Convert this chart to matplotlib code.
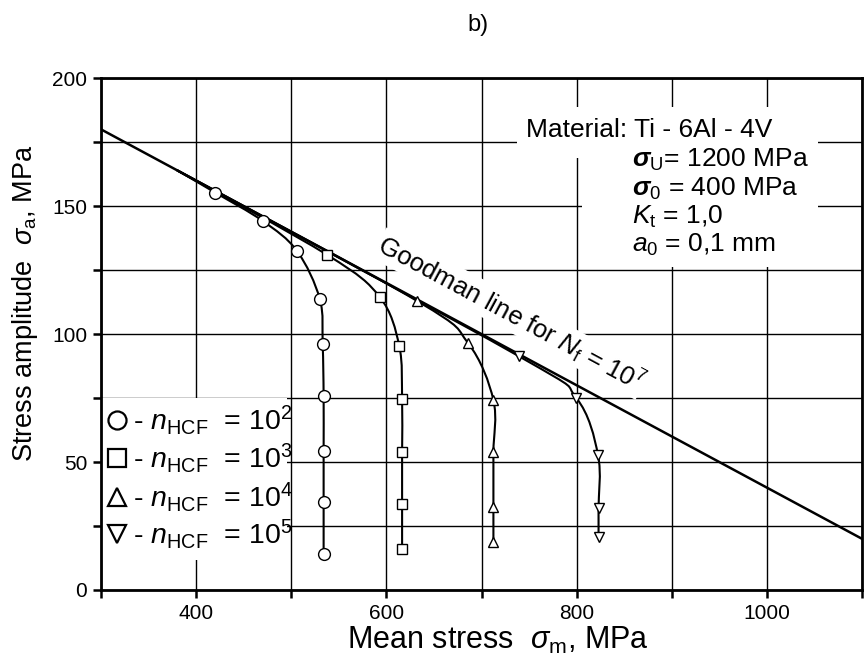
import numpy as np
import matplotlib
matplotlib.use("Agg")
import matplotlib.pyplot as plt
from matplotlib.path import Path
from matplotlib.patches import PathPatch, Rectangle
from matplotlib.ticker import FixedLocator, FuncFormatter

plt.rcParams['font.family'] = ['Liberation Sans', 'DejaVu Sans']
plt.rcParams['mathtext.fontset'] = 'custom'
plt.rcParams['mathtext.rm'] = 'Liberation Sans'
plt.rcParams['mathtext.it'] = 'Liberation Sans:italic'
plt.rcParams['mathtext.bf'] = 'Liberation Sans:italic:bold'

# Goodman line for Nf = 1e7 (end points)
goodman_x = [300, 1100]
goodman_y = [180, 20]

# all curves leave the Goodman line at about the same point
start_x = 380
start_y = 164

# n_HCF = 1e2 (circles)
n2_x = [420, 470, 506, 530, 533, 534, 534, 534, 534]
n2_y = [155.3, 144.2, 132.5, 113.7, 96.0, 75.8, 54.3, 34.5, 13.9]
# n_HCF = 1e3 (squares)
n3_x = [538, 593, 613.5, 616.5, 616.5, 616.5, 616.5]
n3_y = [130.9, 114.5, 95.4, 74.7, 53.8, 33.6, 16.0]
# n_HCF = 1e4 (triangles up)
n4_x = [632, 686, 712.5, 712.5, 712.5, 712.5]
n4_y = [113.0, 96.4, 74.2, 53.8, 32.6, 18.9]
# n_HCF = 1e5 (triangles down)
n5_x = [739, 799.5, 822.5, 823, 823]
n5_y = [91.4, 75.1, 52.7, 31.9, 20.8]

series = [(n2_x, n2_y, 'o', 8.5, '2'),
          (n3_x, n3_y, 's', 7, '3'),
          (n4_x, n4_y, '^', 7.5, '4'),
          (n5_x, n5_y, 'v', 7.5, '5')]


def smooth_path(xs, ys):
    # catmull-rom through the points, drawn as cubic bezier segments
    p = np.column_stack([xs, ys]).astype(float)
    ext = np.vstack([p[0], p, p[-1]])
    verts = [p[0]]
    codes = [Path.MOVETO]
    for i in range(1, len(ext) - 2):
        c1 = ext[i] + (ext[i + 1] - ext[i - 1]) / 6.0
        c2 = ext[i + 1] - (ext[i + 2] - ext[i]) / 6.0
        verts += [c1, c2, ext[i + 1]]
        codes += [Path.CURVE4] * 3
    return Path(verts, codes)


fig = plt.figure(figsize=(8.68, 6.57), dpi=100)
ax = fig.add_axes([0.1164, 0.102, 0.8767, 0.779])

ax.set_xlim(300, 1100)
ax.set_ylim(0, 200)
ax.set_axisbelow(True)

ax.xaxis.set_major_locator(FixedLocator(np.arange(300, 1101, 100)))
ax.yaxis.set_major_locator(FixedLocator(np.arange(0, 201, 25)))
ax.xaxis.set_major_formatter(FuncFormatter(
    lambda v, pos: f"{v:.0f}" if int(round(v)) in (400, 600, 800, 1000) else ""))
ax.yaxis.set_major_formatter(FuncFormatter(
    lambda v, pos: f"{v:.0f}" if int(round(v)) % 50 == 0 else ""))
ax.tick_params(direction='out', length=6, width=1.8, labelsize=15, pad=4)
ax.grid(True, color='black', lw=1.0)
for sp in ax.spines.values():
    sp.set_linewidth(2)

# goodman line
ax.plot(goodman_x, goodman_y, color='black', lw=1.8, zorder=3)

for xs, ys, mk, ms, ex in series:
    path = smooth_path([start_x] + xs, [start_y] + ys)
    ax.add_patch(PathPatch(path, fill=False, edgecolor='black', lw=1.5, zorder=4))
    ax.plot(xs, ys, linestyle='none', marker=mk, ms=ms, mfc='white',
            mec='black', mew=1.0, zorder=5)

# white boxes behind the texts
for (x0, y0, w, h) in [(0.0, 0.059, 0.244, 0.316),
                       (0.547, 0.844, 0.395, 0.099),
                       (0.632, 0.631, 0.310, 0.213)]:
    ax.add_patch(Rectangle((x0, y0), w, h, transform=ax.transAxes,
                           facecolor='white', edgecolor='none', zorder=1))

# legend
leg_y = [0.332, 0.258, 0.182, 0.109]
for (xs, ys, mk, ms, ex), yy in zip(series, leg_y):
    ax.plot([0.021], [yy], transform=ax.transAxes, marker=mk, ms=13,
            mfc='white', mec='black', mew=1.6, linestyle='none', zorder=6,
            clip_on=False)
    ax.text(0.042, yy, r"- $n_{\rm HCF}$  = 10$^{%s}$" % ex, transform=ax.transAxes,
            fontsize=20.5, va='center', ha='left', zorder=6)

# material data
ax.text(0.558, 0.898, "Material: Ti - 6Al - 4V", transform=ax.transAxes,
        fontsize=19, va='center', ha='left', zorder=6)
mat_lines = [r"$\mathbf{\sigma}_{\rm U}$= 1200 MPa",
             r"$\mathbf{\sigma}_{0}$ = 400 MPa",
             r"$K_{\rm t}$ = 1,0",
             r"$a_{0}$ = 0,1 mm"]
for txt, yy in zip(mat_lines, [0.840, 0.783, 0.729, 0.674]):
    ax.text(0.698, yy, txt, transform=ax.transAxes, fontsize=19,
            va='center', ha='left', zorder=6)

ax.text(731, 108, r"Goodman line for $N_{\rm f}$ = 10$^{7}$", fontsize=18.5,
        rotation=-28.3, rotation_mode='anchor', ha='center', va='center',
        zorder=6, bbox=dict(boxstyle='square,pad=0.05', fc='white', ec='none'))

ax.set_xlabel(r"Mean stress  $\sigma_{\rm m}$, MPa", fontsize=22)
ax.xaxis.set_label_coords(0.522, -0.068)
ax.set_ylabel(r"Stress amplitude  $\sigma_{\rm a}$, MPa", fontsize=19.5)
ax.yaxis.set_label_coords(-0.08, 0.56)

fig.text(0.551, 0.962, "b)", fontsize=17, ha='center', va='center')

fig.savefig("out.png", dpi=100)
